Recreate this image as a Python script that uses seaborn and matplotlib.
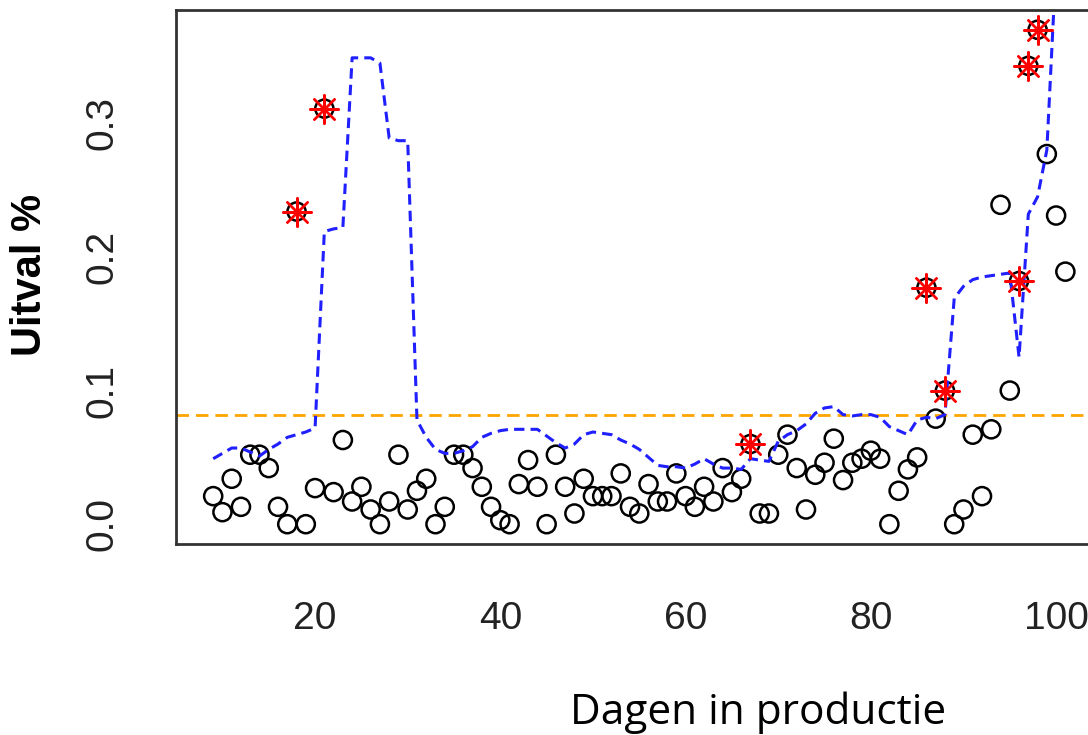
import numpy as np
import pandas as pd
import matplotlib
matplotlib.use("Agg")
import matplotlib.pyplot as plt
import seaborn as sns

# dagen 9 t/m 101
dagen = np.arange(9, 102)

uitval = [
    0.021, 0.009, 0.034, 0.013, 0.052, 0.052, 0.042, 0.013, 0.000, 0.234,
    0.000, 0.027, 0.311, 0.024, 0.063, 0.017, 0.028, 0.011, 0.000, 0.017,
    0.052, 0.011, 0.025, 0.034, 0.000, 0.013, 0.052, 0.052, 0.042, 0.028,
    0.013, 0.003, 0.000, 0.030, 0.048, 0.028, 0.000, 0.052, 0.028, 0.008,
    0.034, 0.021, 0.021, 0.021, 0.038, 0.013, 0.008, 0.030, 0.017, 0.017,
    0.038, 0.021, 0.013, 0.028, 0.017, 0.042, 0.024, 0.034, 0.060, 0.008,
    0.008, 0.052, 0.067, 0.042, 0.011, 0.037, 0.046, 0.064, 0.033, 0.046,
    0.049, 0.055, 0.049, 0.000, 0.025, 0.041, 0.050, 0.177, 0.079, 0.100,
    0.000, 0.011, 0.067, 0.021, 0.071, 0.239, 0.100, 0.182, 0.343, 0.370,
    0.277, 0.231, 0.189,
]

# bovengrens (blauwe lijn)
grens = [
    0.049, 0.053, 0.057, 0.057, 0.054, 0.051, 0.056, 0.060, 0.065, 0.067,
    0.069, 0.072, 0.219, 0.221, 0.222, 0.349, 0.349, 0.349, 0.345, 0.289,
    0.287, 0.287, 0.078, 0.065, 0.056, 0.053, 0.053, 0.055, 0.058, 0.065,
    0.068, 0.070, 0.071, 0.071, 0.071, 0.071, 0.066, 0.061, 0.057, 0.060,
    0.067, 0.069, 0.068, 0.067, 0.063, 0.060, 0.056, 0.050, 0.044, 0.043,
    0.043, 0.042, 0.045, 0.049, 0.045, 0.042, 0.042, 0.041, 0.049, 0.048,
    0.047, 0.062, 0.067, 0.070, 0.075, 0.083, 0.087, 0.088, 0.082, 0.081,
    0.082, 0.082, 0.080, 0.073, 0.070, 0.067, 0.078, 0.080, 0.079, 0.082,
    0.169, 0.178, 0.183, 0.185, 0.186, 0.187, 0.188, 0.125, 0.232, 0.245,
    0.280, 0.420, 0.480,
]

uitschieters = [18, 21, 67, 86, 88, 96, 97, 98]
norm = 0.0816

df = pd.DataFrame({"dag": dagen, "uitval": uitval, "grens": grens})
df_rood = df[df["dag"].isin(uitschieters)]

sns.set_style("white")
plt.rcParams["font.family"] = ["Liberation Sans", "DejaVu Sans"]

fig = plt.figure(figsize=(10.88, 7.35), dpi=100)
ax = fig.add_axes([0.1618, 0.2599, 0.8506, 0.7265])

sns.scatterplot(data=df, x="dag", y="uitval", marker="o", s=170,
                facecolor="none", edgecolor="black", linewidth=1.8, ax=ax, zorder=3)
sns.lineplot(data=df, x="dag", y="grens", color="#1f1fff", linewidth=2.2,
             linestyle=(0, (3.4, 2.0)), ax=ax, zorder=4)
ax.axhline(norm, color="#ffa500", linewidth=2.0, linestyle=(0, (4.5, 2.5)), zorder=2)
sns.scatterplot(data=df_rood, x="dag", y="uitval", marker=(8, 2, 0), s=420,
                color="red", edgecolor="red", linewidth=1.7, ax=ax, zorder=5)

ax.set_xlim(4.99, 104.9)
ax.set_ylim(-0.0148, 0.3848)
ax.set_xticks([20, 40, 60, 80, 100])
ax.set_yticks([0.0, 0.1, 0.2, 0.3])
ax.set_yticklabels(["0.0", "0.1", "0.2", "0.3"], rotation=90, va="center")
ax.tick_params(axis="both", direction="out", length=16, width=1.5,
               color="#333333", labelcolor="#222222", labelsize=28)
ax.tick_params(axis="y", pad=24)
ax.tick_params(axis="x", pad=25)
ax.set_xlabel("")
ax.set_ylabel("")
for s in ax.spines.values():
    s.set_linewidth(2.0)
    s.set_color("#333333")

fig.text(0.0276, 0.626, "Uitval %", rotation=90, fontsize=30, fontweight="bold",
         ha="center", va="center", color="black")
fig.text(0.697, 0.030, "Dagen in productie", fontsize=30.5, family="Open Sans",
         ha="center", va="center", color="black")

fig.savefig("out.png", dpi=100)
